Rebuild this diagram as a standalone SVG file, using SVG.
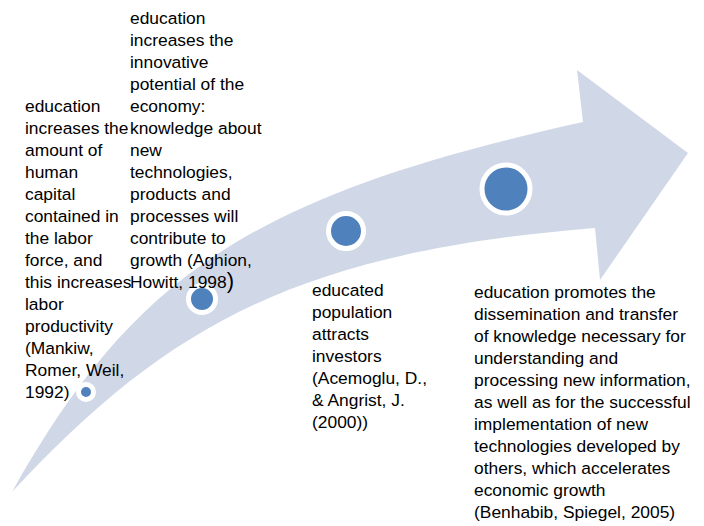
<svg xmlns="http://www.w3.org/2000/svg" width="704" height="526" viewBox="0 0 704 526">
<style>
.t{font-family:"Liberation Sans",Arial,sans-serif;font-size:17.4px;fill:#000}
.ring{fill:#4F81BD;stroke:#FFFFFF}
</style>
<rect width="704" height="526" fill="#FFFFFF"/>
<g id="arrow">
<path d="M12,492 C134,274 253,195 583,122 L577,70 L688,153 L600,280 L595,228 C300,252 168,324 12,492 Z" fill="#D0D8E8"/>
</g>
<g id="node1">
<circle class="ring" cx="86" cy="392" r="7.5" stroke-width="5"/>
<text class="t" x="25" y="112">
<tspan x="25" dy="0">education</tspan>
<tspan x="25" dy="22">increases the</tspan>
<tspan x="25" dy="22">amount of</tspan>
<tspan x="25" dy="22">human</tspan>
<tspan x="25" dy="22">capital</tspan>
<tspan x="25" dy="22">contained in</tspan>
<tspan x="25" dy="22">the labor</tspan>
<tspan x="25" dy="22">force, and</tspan>
<tspan x="25" dy="22">this increases</tspan>
<tspan x="25" dy="22">labor</tspan>
<tspan x="25" dy="22">productivity</tspan>
<tspan x="25" dy="22">(Mankiw,</tspan>
<tspan x="25" dy="22">Romer, Weil,</tspan>
<tspan x="25" dy="22">1992)</tspan>
</text>
</g>
<g id="node2">
<circle class="ring" cx="202" cy="299" r="13.5" stroke-width="5"/>
<text class="t" x="130" y="24">
<tspan x="130" dy="0">education</tspan>
<tspan x="130" dy="22">increases the</tspan>
<tspan x="130" dy="22">innovative</tspan>
<tspan x="130" dy="22">potential of the</tspan>
<tspan x="130" dy="22">economy:</tspan>
<tspan x="130" dy="22">knowledge about</tspan>
<tspan x="130" dy="22">new</tspan>
<tspan x="130" dy="22">technologies,</tspan>
<tspan x="130" dy="22">products and</tspan>
<tspan x="130" dy="22">processes will</tspan>
<tspan x="130" dy="22">contribute to</tspan>
<tspan x="130" dy="22">growth (Aghion,</tspan>
<tspan x="130" dy="22">Howitt, 1998<tspan style="font-size:22px">)</tspan></tspan>
</text>
</g>
<g id="node3">
<circle class="ring" cx="346" cy="231" r="17.5" stroke-width="5"/>
<text class="t" x="312" y="296">
<tspan x="312" dy="0">educated</tspan>
<tspan x="312" dy="22">population</tspan>
<tspan x="312" dy="22">attracts</tspan>
<tspan x="312" dy="22">investors</tspan>
<tspan x="312" dy="22">(Acemoglu, D.,</tspan>
<tspan x="312" dy="22">&amp; Angrist, J.</tspan>
<tspan x="312" dy="22">(2000))</tspan>
</text>
</g>
<g id="node4">
<circle class="ring" cx="506" cy="189" r="24" stroke-width="5"/>
<text class="t" x="474" y="298">
<tspan x="474" dy="0">education promotes the</tspan>
<tspan x="474" dy="22">dissemination and transfer</tspan>
<tspan x="474" dy="22">of knowledge necessary for</tspan>
<tspan x="474" dy="22">understanding and</tspan>
<tspan x="474" dy="22">processing new information,</tspan>
<tspan x="474" dy="22">as well as for the successful</tspan>
<tspan x="474" dy="22">implementation of new</tspan>
<tspan x="474" dy="22">technologies developed by</tspan>
<tspan x="474" dy="22">others, which accelerates</tspan>
<tspan x="474" dy="22">economic growth</tspan>
<tspan x="474" dy="22">(Benhabib, Spiegel, 2005)</tspan>
</text>
</g>
</svg>
